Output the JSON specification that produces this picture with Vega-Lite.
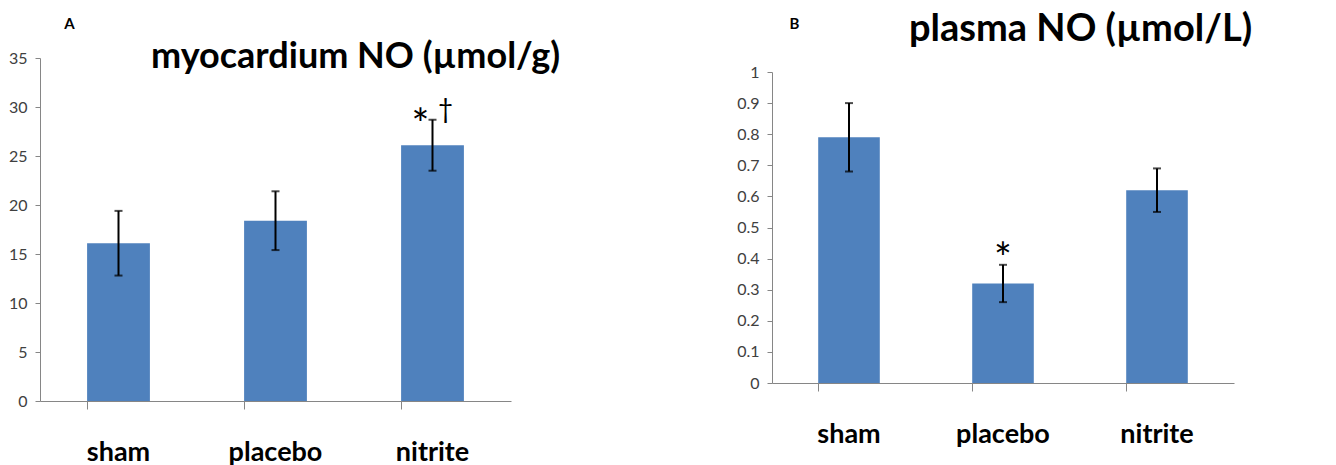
{
  "$schema": "https://vega.github.io/schema/vega-lite/v6.json",
  "padding": {"left": 8, "top": 11, "right": 5, "bottom": 0},
  "background": "white",
  "config": {
    "view": {"stroke": null},
    "font": "Lato",
    "axisY": {"grid": false, "labelOverlap": false, "domainColor": "#868686", "tickColor": "#868686", "tickSize": 5, "labelFontSize": 16, "labelColor": "#404040", "labelPadding": 8, "titleAngle": 0, "titleFontSize": 15, "titleFontWeight": "bold", "titleAlign": "center", "titleBaseline": "middle", "titleColor": "black"},
    "axisX": {"labelAngle": 0, "bandPosition": 0, "tickSize": 8, "tickColor": "#868686", "domainColor": "#868686", "labelFontSize": 27, "labelFontWeight": "bold", "labelColor": "black", "labelPadding": 30}
  },
  "datasets": {
    "myo": [
      {"group": "sham", "mean": 16.1, "lo": 12.8, "hi": 19.4},
      {"group": "placebo", "mean": 18.4, "lo": 15.4, "hi": 21.4},
      {"group": "nitrite", "mean": 26.1, "lo": 23.5, "hi": 28.7}
    ],
    "myo_sig": [
      {"group": "nitrite", "y": 29.2, "sig": "*"},
      {"group": "nitrite", "y": 29.7, "sig": "†"}
    ],
    "plasma": [
      {"group": "sham", "mean": 0.79, "lo": 0.68, "hi": 0.9},
      {"group": "placebo", "mean": 0.32, "lo": 0.26, "hi": 0.38},
      {"group": "nitrite", "mean": 0.62, "lo": 0.55, "hi": 0.69}
    ],
    "plasma_sig": [
      {"group": "placebo", "y": 0.43, "sig": "*"}
    ]
  },
  "hconcat": [
    {
      "width": 471,
      "height": 343,
      "title": {"text": "myocardium NO (µmol/g)", "anchor": "start", "frame": "group", "dx": 111, "fontSize": 36, "fontWeight": "bold", "font": "Lato", "color": "black", "baseline": "alphabetic", "offset": 0, "dy": 88},
      "encoding": {
        "x": {"field": "group", "type": "nominal", "sort": ["sham", "placebo", "nitrite"],
              "scale": {"paddingInner": 0.6, "paddingOuter": 0.3},
              "axis": {"title": null}}
      },
      "layer": [
        {"data": {"name": "myo"}, "mark": {"type": "bar", "color": "#4F81BD"},
         "encoding": {"y": {"field": "mean", "type": "quantitative", "scale": {"domain": [0, 35], "nice": false},
           "axis": {"title": "A", "titleX": 29, "titleY": -35, "values": [0, 5, 10, 15, 20, 25, 30, 35]}}}},
        {"data": {"name": "myo"}, "mark": {"type": "rule", "color": "black", "strokeWidth": 2},
         "encoding": {"y": {"field": "lo", "type": "quantitative", "axis": {"title": "A", "titleX": 29, "titleY": -35, "values": [0, 5, 10, 15, 20, 25, 30, 35]}}, "y2": {"field": "hi"}}},
        {"data": {"name": "myo"}, "mark": {"type": "tick", "color": "black", "thickness": 2, "size": 8},
         "encoding": {"y": {"field": "lo", "type": "quantitative", "axis": {"title": "A", "titleX": 29, "titleY": -35, "values": [0, 5, 10, 15, 20, 25, 30, 35]}}}},
        {"data": {"name": "myo"}, "mark": {"type": "tick", "color": "black", "thickness": 2, "size": 8},
         "encoding": {"y": {"field": "hi", "type": "quantitative", "axis": {"title": "A", "titleX": 29, "titleY": -35, "values": [0, 5, 10, 15, 20, 25, 30, 35]}}}},
        {"data": {"name": "myo_sig"}, "transform": [{"filter": "datum.sig == '*'"}],
         "mark": {"type": "text", "fontSize": 42, "dx": -12, "baseline": "alphabetic", "dy": 24, "color": "black"},
         "encoding": {"y": {"field": "y", "type": "quantitative", "axis": {"title": "A", "titleX": 29, "titleY": -35, "values": [0, 5, 10, 15, 20, 25, 30, 35]}}, "text": {"field": "sig"}}},
        {"data": {"name": "myo_sig"}, "transform": [{"filter": "datum.sig == '†'"}],
         "mark": {"type": "text", "fontSize": 26, "dx": 13, "baseline": "alphabetic", "dy": 8, "color": "black"},
         "encoding": {"y": {"field": "y", "type": "quantitative", "axis": {"title": "A", "titleX": 29, "titleY": -35, "values": [0, 5, 10, 15, 20, 25, 30, 35]}}, "text": {"field": "sig"}}}
      ]
    },
    {
      "width": 462,
      "height": 325,
      "title": {"text": "plasma NO (µmol/L)", "anchor": "start", "frame": "group", "dx": 137, "fontSize": 38, "fontWeight": "bold", "font": "Lato", "color": "black", "baseline": "alphabetic", "offset": 0, "dy": 63},
      "encoding": {
        "x": {"field": "group", "type": "nominal", "sort": ["sham", "placebo", "nitrite"],
              "scale": {"paddingInner": 0.6, "paddingOuter": 0.3},
              "axis": {"title": null}}
      },
      "layer": [
        {"data": {"name": "plasma"}, "mark": {"type": "bar", "color": "#4F81BD"},
         "encoding": {"y": {"field": "mean", "type": "quantitative", "scale": {"domain": [0, 1], "nice": false, "range": [325, 14]},
           "axis": {"title": "B", "titleX": 22, "titleY": -35, "format": "~g", "values": [0, 0.1, 0.2, 0.3, 0.4, 0.5, 0.6, 0.7, 0.8, 0.9, 1]}}}},
        {"data": {"name": "plasma"}, "mark": {"type": "rule", "color": "black", "strokeWidth": 2},
         "encoding": {"y": {"field": "lo", "type": "quantitative", "axis": {"title": "B", "titleX": 22, "titleY": -35, "format": "~g", "values": [0, 0.1, 0.2, 0.3, 0.4, 0.5, 0.6, 0.7, 0.8, 0.9, 1]}}, "y2": {"field": "hi"}}},
        {"data": {"name": "plasma"}, "mark": {"type": "tick", "color": "black", "thickness": 2, "size": 8},
         "encoding": {"y": {"field": "lo", "type": "quantitative", "axis": {"title": "B", "titleX": 22, "titleY": -35, "format": "~g", "values": [0, 0.1, 0.2, 0.3, 0.4, 0.5, 0.6, 0.7, 0.8, 0.9, 1]}}}},
        {"data": {"name": "plasma"}, "mark": {"type": "tick", "color": "black", "thickness": 2, "size": 8},
         "encoding": {"y": {"field": "hi", "type": "quantitative", "axis": {"title": "B", "titleX": 22, "titleY": -35, "format": "~g", "values": [0, 0.1, 0.2, 0.3, 0.4, 0.5, 0.6, 0.7, 0.8, 0.9, 1]}}}},
        {"data": {"name": "plasma_sig"},
         "mark": {"type": "text", "fontSize": 42, "baseline": "alphabetic", "dy": 24, "color": "black"},
         "encoding": {"y": {"field": "y", "type": "quantitative", "axis": {"title": "B", "titleX": 22, "titleY": -35, "format": "~g", "values": [0, 0.1, 0.2, 0.3, 0.4, 0.5, 0.6, 0.7, 0.8, 0.9, 1]}}, "text": {"field": "sig"}}}
      ]
    }
  ],
  "spacing": 261,
  "bounds": "flush"
}
